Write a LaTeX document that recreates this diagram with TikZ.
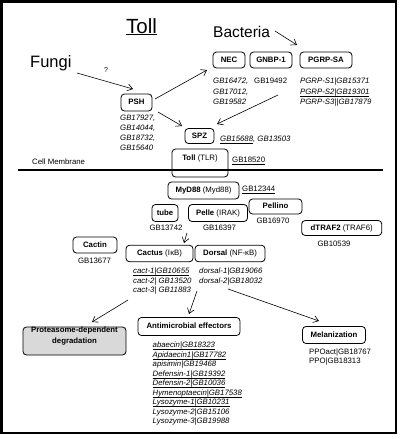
\documentclass[tikz,border=0pt]{standalone}
\usepackage{fontspec}
\setmainfont{Liberation Sans}
\usetikzlibrary{arrows.meta}
\newcommand\ulx[1]{\underline{\smash{#1}}}
\begin{document}
\begin{tikzpicture}[x=1pt,y=-1pt,
  every node/.style={inner sep=0pt},
  bx/.style={draw, rounded corners=3.5pt, line width=0.8pt, fill=white, text height=5.8pt, text depth=1pt, font=\fontsize{7.8}{9}\selectfont\bfseries},
  lst/.style={anchor=west, text height=5.8pt, text depth=1pt, font=\fontsize{7.8}{9}\selectfont\itshape},
  up/.style={text height=5.8pt, text depth=1pt, font=\fontsize{7.8}{9}\selectfont},
  arr/.style={-{Straight Barb[length=5pt,width=7pt]}, line width=0.6pt}]
\useasboundingbox (0,0) rectangle (400,439);
\draw[line width=2.7pt] (1.35,1.35) rectangle (396,433);

% titles
\node[anchor=base, font=\fontsize{20.5}{24}\selectfont] (title) at (141.5,33) {\underline{Toll}};
\node[anchor=base west, font=\fontsize{16.5}{20}\selectfont] (fungi) at (30,67) {Fungi};
\node[anchor=base west, font=\fontsize{15.5}{19}\selectfont] (bact) at (213,37) {Bacteria};
\node[up, font=\fontsize{7}{8}\selectfont] (q) at (106,70) {?};

% top boxes
\node[bx, minimum width=31pt, minimum height=17pt] (psh) at (136.5,102.5) {PSH};
\node[bx, minimum width=32pt, minimum height=16pt] (nec) at (229,60) {NEC};
\node[bx, minimum width=42pt, minimum height=16pt] (gnbp) at (271,60) {GNBP-1};
\node[bx, minimum width=52pt, minimum height=16pt] (pgrp) at (326,60) {PGRP-SA};
\node[bx, minimum width=29pt, minimum height=15pt] (spz) at (199.5,136) {SPZ};

% lists top
\node[lst] (p1) at (120,118) {GB17927,};
\node[lst] (p2) at (120,128) {GB14044,};
\node[lst] (p3) at (120,138) {GB18732,};
\node[lst] (p4) at (120,148) {GB15640};
\node[lst] (n1) at (213,81.5) {GB16472,};
\node[lst] (n2) at (213,92) {GB17012,};
\node[lst] (n3) at (213,102) {GB19582};
\node[up, anchor=west] (g1) at (254,81.5) {GB19492};
\node[lst] (r1) at (300,81.5) {PGRP-S1|GB15371};
\node[lst] (r2) at (300,92) {\ulx{PGRP-S2|GB19301}};
\node[lst] (r3) at (300,102) {PGRP-S3||GB17879};
\node[lst] (s1) at (220,139) {\ulx{GB15688}, GB13503};

% membrane
\coordinate (m1) at (18,169.5);
\coordinate (m2) at (383,169.5);
\draw[line width=2pt] (m1) -- (m2);
\node[up, anchor=west] (cm) at (32,162.5) {Cell Membrane};
\node[bx, fill=none, minimum width=56pt, minimum height=28pt] (toll) at (200,163) {};
\node[up] (tolltxt) at (200,158.5) {\textbf{Toll} (TLR)};
\node[up, anchor=west] (tollgb) at (232,160.5) {\ulx{GB18520}};

% intracellular
\node[bx, minimum width=71pt, minimum height=17pt] (myd) at (203.5,190.5) {MyD88 \mdseries(Myd88)};
\node[up, anchor=west] (mydgb) at (242,189.5) {\ulx{GB12344}};
\node[bx, minimum width=26pt, minimum height=17pt] (tube) at (165,213) {tube};
\node[up] (tubegb) at (166,228.5) {GB13742};
\node[bx, minimum width=59pt, minimum height=17pt] (pelle) at (218,213) {Pelle \mdseries(IRAK)};
\node[up] (pellegb) at (219.5,228.5) {GB16397};
\node[bx, minimum width=53pt, minimum height=15pt] (pellino) at (275.5,206.5) {Pellino};
\node[up] (pellinogb) at (273,221.5) {GB16970};
\node[bx, minimum width=80pt, minimum height=15pt] (traf) at (341.7,228) {dTRAF2 \mdseries(TRAF6)};
\node[up] (trafgb) at (334,244) {GB10539};
\node[bx, minimum width=44pt, minimum height=16pt] (cactin) at (95,245) {Cactin};
\node[up] (cactingb) at (94.5,261.5) {GB13677};
\node[bx, minimum width=67pt, minimum height=16.5pt] (cactus) at (159.5,253.5) {Cactus \mdseries(I\kern0.3pt κB)};
\node[bx, minimum width=70pt, minimum height=16.5pt] (dorsal) at (230,253.5) {Dorsal \mdseries(NF-κB)};

\node[lst] (c1) at (133,271.5) {\ulx{cact-1|GB10655}};
\node[lst] (c2) at (133,281) {cact-2| GB13520};
\node[lst] (c3) at (133,290.5) {cact-3| GB11883};
\node[lst] (d1) at (199,271.5) {dorsal-1|GB19066};
\node[lst] (d2) at (199,281) {dorsal-2|GB18032};

% bottom boxes
\node[bx, fill=gray!30, minimum width=103pt, minimum height=28pt, align=center, font=\fontsize{7.8}{10.5}\selectfont\bfseries] (prot) at (74.5,341) {Proteasome-dependent\\degradation};
\node[bx, minimum width=102pt, minimum height=18pt] (amp) at (189,326.5) {Antimicrobial effectors};
\node[bx, minimum width=63pt, minimum height=17pt] (mel) at (334,335) {Melanization};
\node[up, anchor=west] (ppo1) at (309,352) {PPOact|GB18767};
\node[up, anchor=west] (ppo2) at (309,361.5) {PPO|GB18313};

\node[lst] (a1) at (152.5,345.5) {\ulx{abaecin|GB18323}};
\node[lst] (a2) at (152.5,355) {\ulx{Apidaecin1|GB17782}};
\node[lst] (a3) at (152.5,364.5) {apisimin|GB19468};
\node[lst] (a4) at (152.5,374) {\ulx{Defensin-1|GB19392}};
\node[lst] (a5) at (152.5,383.5) {\ulx{Defensin-2|GB10036}};
\node[lst] (a6) at (152.5,393) {\ulx{Hymenoptaecin|GB17538}};
\node[lst] (a7) at (152.5,402.5) {\ulx{Lysozyme-1|GB10231}};
\node[lst] (a8) at (152.5,412) {Lysozyme-2|GB15106};
\node[lst] (a9) at (152.5,421.5) {Lysozyme-3|GB19988};

% arrows
\coordinate (e1s) at (77,73);   \coordinate (e1t) at (133,89);
\coordinate (e2s) at (275,31);  \coordinate (e2t) at (297,45);
\coordinate (e3s) at (155,99);  \coordinate (e3t) at (207,70);
\coordinate (e4s) at (158,112); \coordinate (e4t) at (182,126);
\coordinate (e5s) at (278,95);  \coordinate (e5t) at (217,124);
\coordinate (e6s) at (187,233); \coordinate (e6t) at (184,243);
\coordinate (e7s) at (128,300); \coordinate (e7t) at (92,322);
\coordinate (e8s) at (197,291); \coordinate (e8t) at (189,314);
\coordinate (e9s) at (228,289); \coordinate (e9t) at (319,321);
\foreach \i in {1,...,9} {\draw[arr] (e\i s) -- (e\i t);}
\end{tikzpicture}
\end{document}
